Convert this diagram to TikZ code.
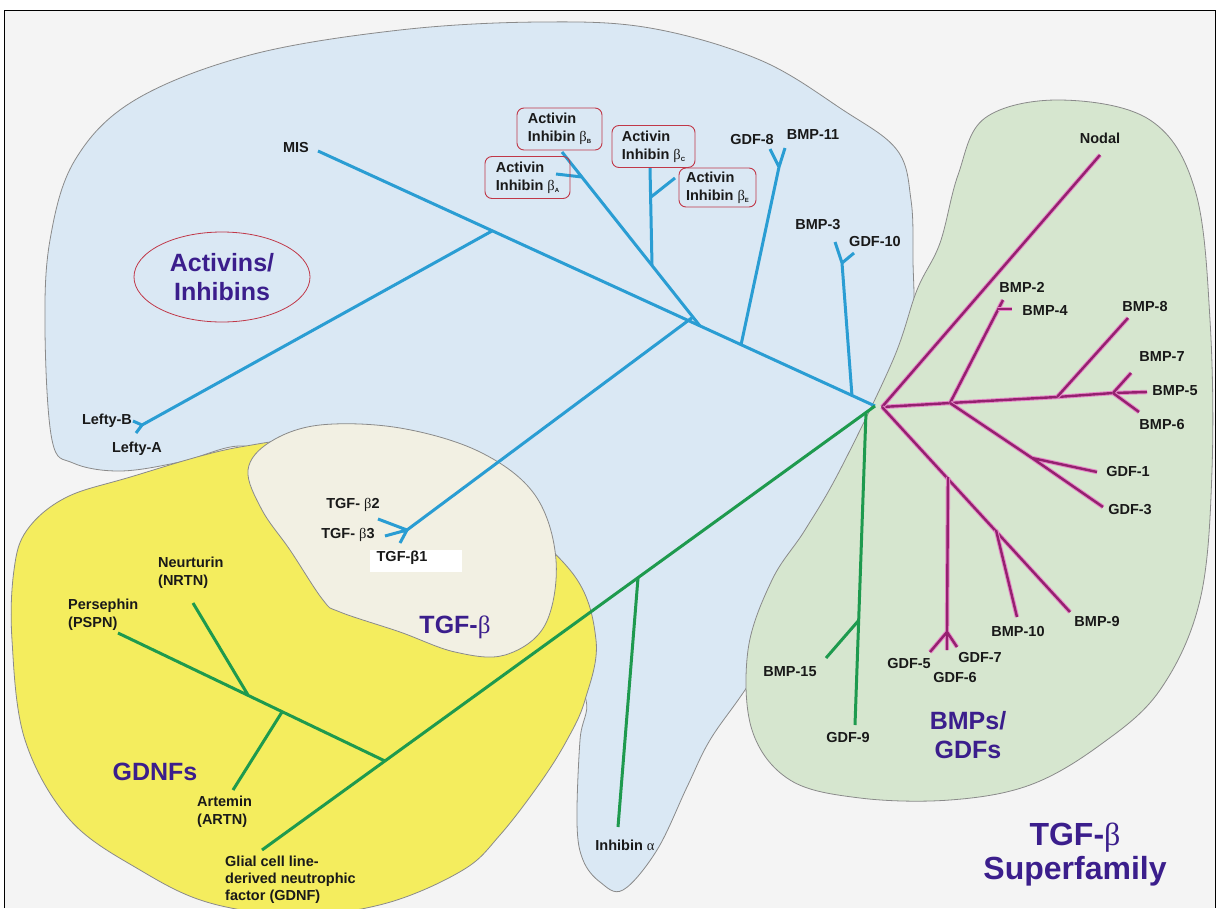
\documentclass[tikz,border=0pt]{standalone}
\usepackage{fontspec}
\setmainfont{Liberation Sans}
\newfontfamily\grk{Liberation Serif}
\definecolor{bgC}{HTML}{F4F4F4}
\definecolor{blueF}{HTML}{DAE8F4}
\definecolor{greenF}{HTML}{D6E6CF}
\definecolor{yelF}{HTML}{F4ED5E}
\definecolor{creamF}{HTML}{F2F0E3}
\definecolor{edgeC}{HTML}{8A8A8A}
\definecolor{blueL}{HTML}{2A9DD3}
\definecolor{greenL}{HTML}{1E9A4E}
\definecolor{magL}{HTML}{95206F}
\definecolor{magG}{HTML}{E58AC8}
\definecolor{titleC}{HTML}{3B1E8C}
\definecolor{boxR}{HTML}{C03848}
\begin{document}
\begin{tikzpicture}[x=1pt,y=-1pt,
  lab/.style={font=\fontsize{14.5}{18}\selectfont\bfseries, text=black!90, inner sep=0pt, align=left},
  bline/.style={draw=blueL, line width=3pt},
  gline/.style={draw=greenL, line width=3pt},
  mline/.style={draw=magL, line width=2.4pt, preaction={draw=magG, line width=4.4pt}},
  ttl/.style={font=\fontsize{25}{29}\selectfont\bfseries, text=titleC, align=center, inner sep=0pt},
  abox/.style={draw=boxR, line width=0.9pt, rounded corners=7pt, minimum width=85pt, minimum height=42pt, align=left, inner sep=0pt, font=\fontsize{14.5}{18}\selectfont\bfseries, text=black!90},
  region/.style={draw=edgeC, line width=0.8pt}
]
\useasboundingbox (0,0) rectangle (1216,908);
\fill[white] (0,0) rectangle (1216,908);
\fill[bgC] (4,10) rectangle (1215,908);
\draw[black, line width=1pt] (4,908) -- (4,10) -- (1215,10) -- (1215,908);

% blue region (Activins/Inhibins)
\filldraw[region, fill=blueF] plot[smooth cycle, tension=0.6] coordinates {
 (45,330) (50,240) (75,160) (135,100) (250,55) (400,30) (540,22) (650,28) (760,60) (843,110) (897,150) (911,200) (913,260)
 (912,330) (890,420) (850,520) (790,620) (745,690) (710,740) (687,787) (657,850) (623,890) (600,882) (583,860) (577,823) (580,740)
 (586,700) (560,655) (500,600) (400,520) (285,462) (240,446) (180,462) (120,471) (73,463) (52,440)};
% green region (BMPs/GDFs)
\filldraw[region, fill=greenF] plot[smooth cycle, tension=0.6] coordinates {
 (985,118) (1060,100) (1150,120) (1195,190) (1210,320) (1212,470) (1200,600) (1160,690) (1100,745) (1030,785) (950,800)
 (860,798) (790,780) (752,730) (748,650) (772,580) (805,530) (840,470) (893,360) (917,290) (940,243) (958,175)};
% yellow region (GDNFs)
\filldraw[region, fill=yelF] plot[smooth cycle, tension=0.6] coordinates {
 (27,530) (65,498) (127,478) (240,447) (330,445) (480,500) (570,570) (596,640) (585,700) (567,740) (540,783) (500,835)
 (463,870) (387,903) (300,915) (210,903) (140,870) (70,820) (25,740) (12,640) (14,570)};
% cream region (TGF-beta)
\filldraw[region, fill=creamF] plot[smooth cycle, tension=0.6] coordinates {
 (248,470) (270,442) (320,425) (400,428) (480,452) (535,495) (556,560) (545,625) (505,655) (455,652) (400,632) (340,612)
 (323,600) (290,550) (262,510)};

% ---------- coordinates ----------
\coordinate (H) at (875,406);
% blue tree
\coordinate (MISe) at (318,151);
\coordinate (jL) at (492,231);
\coordinate (LF) at (142,425);
\coordinate (LBe) at (133,421);
\coordinate (LAe) at (136,433);
\coordinate (jA) at (700,326);
\coordinate (ABe) at (562,152);
\coordinate (fA) at (582,177);
\coordinate (AAe) at (556,174);
\coordinate (jC) at (652,265);
\coordinate (ACe) at (650,168);
\coordinate (jE) at (651,197);
\coordinate (AEe) at (675,178);
\coordinate (jT) at (693,317);
\coordinate (TF) at (407,530);
\coordinate (T2e) at (378,519);
\coordinate (T3e) at (385,536);
\coordinate (T1e) at (400,543);
\coordinate (j8) at (741,345);
\coordinate (f8) at (779,167);
\coordinate (G8e) at (770,149);
\coordinate (B11e) at (785,148);
\coordinate (j3) at (852,396);
\coordinate (f3) at (842,263);
\coordinate (B3e) at (835,242);
\coordinate (G10e) at (854,253);
% magenta tree
\coordinate (R) at (882,407);
\coordinate (P1) at (950,403);
\coordinate (P2) at (1057,397);
\coordinate (P3) at (1113,393);
\coordinate (B5e) at (1147,392);
\coordinate (NODe) at (1100,155);
\coordinate (B2e) at (1003,300);
\coordinate (b4a) at (998,309);
\coordinate (B4e) at (1012,309);
\coordinate (B8e) at (1128,318);
\coordinate (B7e) at (1131,373);
\coordinate (B6e) at (1139,412);
\coordinate (G) at (1032,458);
\coordinate (G1e) at (1097,472);
\coordinate (G3e) at (1103,507);
\coordinate (B9e) at (1070,612);
\coordinate (j5) at (948,477);
\coordinate (f5) at (947,632);
\coordinate (G5e) at (930,652);
\coordinate (G6e) at (947,650);
\coordinate (G7e) at (957,647);
\coordinate (j10) at (996,530);
\coordinate (B10e) at (1017,617);
% green tree
\coordinate (GDe) at (262,850);
\coordinate (GN) at (385,761);
\coordinate (PSe) at (118,633);
\coordinate (N) at (248,695);
\coordinate (NRe) at (193,603);
\coordinate (A) at (282,712);
\coordinate (ARe) at (233,790);
\coordinate (I) at (638,578);
\coordinate (IAe) at (618,827);
\coordinate (g9) at (866,412);
\coordinate (j15) at (859,620);
\coordinate (B15e) at (826,658);
\coordinate (G9e) at (855,725);

% ---------- blue lines ----------
\draw[bline] (H) -- (MISe);
\draw[bline] (jL) -- (LF) (LF) -- (LBe) (LF) -- (LAe);
\draw[bline] (jA) -- (ABe) (fA) -- (AAe);
\draw[bline] (jC) -- (ACe) (jE) -- (AEe);
\draw[bline] (jT) -- (TF) (TF) -- (T2e) (TF) -- (T3e) (TF) -- (T1e);
\draw[bline] (j8) -- (f8) (f8) -- (G8e) (f8) -- (B11e);
\draw[bline] (j3) -- (f3) -- (B3e) (f3) -- (G10e);
% ---------- green lines ----------
\draw[gline] (H) -- (GDe);
\draw[gline] (GN) -- (PSe) (N) -- (NRe) (A) -- (ARe);
\draw[gline] (I) -- (IAe);
\draw[gline] (g9) -- (G9e) (j15) -- (B15e);
% ---------- magenta lines ----------
\draw[mline] (R) -- (P1) -- (P2) -- (P3) -- (B5e);
\draw[mline] (R) -- (NODe);
\draw[mline] (P1) -- (B2e);
\draw[mline] (b4a) -- (B4e);
\draw[mline] (P2) -- (B8e);
\draw[mline] (P3) -- (B7e) (P3) -- (B6e);
\draw[mline] (P1) -- (G) -- (G3e) (G) -- (G1e);
\draw[mline] (R) -- (B9e);
\draw[mline] (j5) -- (f5) (f5) -- (G5e) (f5) -- (G6e) (f5) -- (G7e);
\draw[mline] (j10) -- (B10e);

% ---------- labels ----------
\node[lab] (lMIS) at (296,148) {MIS};
\node[lab] (lLB) at (107,421) {Lefty-B};
\node[lab] (lLA) at (137,449) {Lefty-A};
\draw[boxR, line width=0.8pt] (222,277) ellipse [x radius=88, y radius=45];
\node[ttl] (lAct) at (222,277) {Activins/\\Inhibins};
\node[abox] (bB) at (559.5,129) {Activin\\Inhibin {\mdseries\grk β}\raisebox{-2pt}{\fontsize{6}{6}\selectfont B}};
\node[abox] (bA) at (527.5,177.5) {Activin\\Inhibin {\mdseries\grk β}\raisebox{-2pt}{\fontsize{6}{6}\selectfont A}};
\node[abox, minimum width=83pt] (bC) at (653.5,146.5) {Activin\\Inhibin {\mdseries\grk β}\raisebox{-2pt}{\fontsize{6}{6}\selectfont C}};
\node[abox, minimum width=77pt, minimum height=39pt] (bE) at (717.5,187.5) {Activin\\Inhibin {\mdseries\grk β}\raisebox{-2pt}{\fontsize{6}{6}\selectfont E}};
\node[lab] (lG8) at (752,140) {GDF-8};
\node[lab] (lB11) at (813,135) {BMP-11};
\node[lab] (lB3) at (818,225) {BMP-3};
\node[lab] (lG10) at (875,242) {GDF-10};
\node[lab] (lT2) at (353,505) {TGF- {\mdseries\grk β}2};
\node[lab] (lT3) at (348,535) {TGF- {\mdseries\grk β}3};
\node[fill=white, minimum width=92pt, minimum height=22pt, inner sep=0pt] (lT1box) at (416,561) {};
\node[lab] (lT1) at (402,558) {TGF-β1};
\node[ttl] (lTGF) at (455,627) {TGF-{\mdseries\grk β}};
\node[ttl] (lGDNF) at (155,772) {GDNFs};
\node[lab, anchor=west] (lNR) at (158,573) {Neurturin\\(NRTN)};
\node[lab, anchor=west] (lPS) at (68,615) {Persephin\\(PSPN)};
\node[lab, anchor=west] (lAR) at (197,812) {Artemin\\(ARTN)};
\node[lab, anchor=west, font=\fontsize{14.5}{17}\selectfont\bfseries] (lGD) at (225,880) {Glial cell line-\\derived neutrophic\\factor (GDNF)};
\node[lab] (lIA) at (625,845) {Inhibin {\mdseries\grk α}};
\node[lab] (lNod) at (1100,138) {Nodal};
\node[lab] (lB2) at (1022,287) {BMP-2};
\node[lab] (lB4) at (1045,311) {BMP-4};
\node[lab] (lB8) at (1145,307) {BMP-8};
\node[lab] (lB7) at (1162,357) {BMP-7};
\node[lab] (lB5) at (1175,391) {BMP-5};
\node[lab] (lB6) at (1162,425) {BMP-6};
\node[lab] (lG1) at (1128,472) {GDF-1};
\node[lab] (lG3) at (1130,510) {GDF-3};
\node[lab] (lB9) at (1097,622) {BMP-9};
\node[lab] (lB10) at (1018,631) {BMP-10};
\node[lab] (lG5) at (909,663) {GDF-5};
\node[lab] (lG6) at (955,677) {GDF-6};
\node[lab] (lG7) at (980,657) {GDF-7};
\node[lab] (lB15) at (790,672) {BMP-15};
\node[lab] (lG9) at (848,737) {GDF-9};
\node[ttl] (lBMP) at (968,735) {BMPs/\\GDFs};
\node[ttl, font=\fontsize{32}{34}\selectfont\bfseries] (lSup) at (1075,855) {TGF-{\mdseries\grk β}\\Superfamily};
\end{tikzpicture}
\end{document}
